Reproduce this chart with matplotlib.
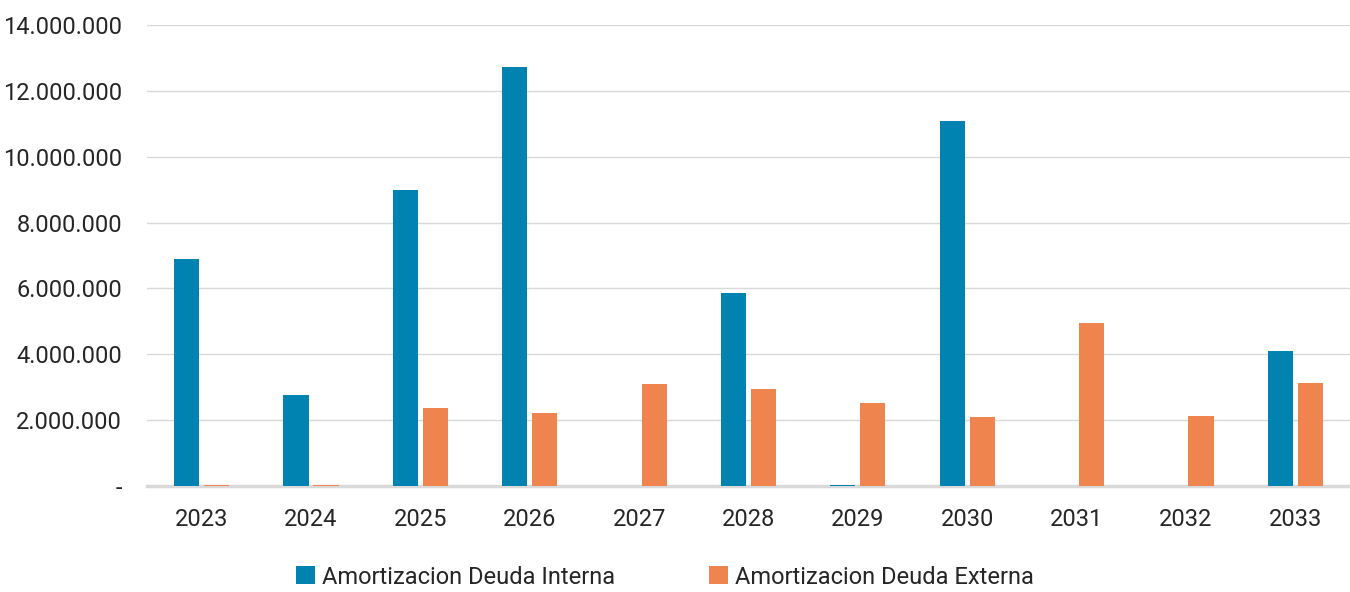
import numpy as np
import matplotlib.pyplot as plt
from matplotlib.ticker import FuncFormatter

years = ["2023", "2024", "2025", "2026", "2027", "2028", "2029", "2030", "2031", "2032", "2033"]
interna = [6890000, 2760000, 8990000, 12720000, 0, 5860000, 40000, 11080000, 0, 0, 4100000]
externa = [40000, 40000, 2370000, 2220000, 3100000, 2940000, 2520000, 2090000, 4950000, 2120000, 3130000]

blue = "#0083B0"
orange = "#F0844E"
text_color = "#262626"

plt.rcParams['font.family'] = ['Roboto', 'DejaVu Sans']

fig = plt.figure(figsize=(13.5, 5.92), dpi=100)
ax = fig.add_axes([147 / 1350, (592 - 486) / 592, (1350 - 147) / 1350, (486 - 25) / 592])

x = np.arange(len(years))
w = 0.23
ax.bar(x - 0.137, interna, width=w, color=blue, label="Amortizacion Deuda Interna", zorder=3)
ax.bar(x + 0.137, externa, width=w, color=orange, label="Amortizacion Deuda Externa", zorder=3)

ax.set_xlim(-0.5, len(years) - 0.5)
ax.set_ylim(0, 14000000)
ax.set_yticks(np.arange(0, 14000001, 2000000))


def fmt(v, pos):
    if v == 0:
        return "-"
    return f"{int(v):,}".replace(",", ".")


ax.yaxis.set_major_formatter(FuncFormatter(fmt))
ax.set_xticks(x)
ax.set_xticklabels(years)

ax.grid(axis="y", color="#d9d9d9", linewidth=1, zorder=0)
for s in ["top", "right", "left"]:
    ax.spines[s].set_visible(False)
ax.spines["bottom"].set_color("#d9d9d9")
ax.spines["bottom"].set_linewidth(2.5)
ax.spines["bottom"].set_zorder(2)

ax.tick_params(axis="both", length=0, labelsize=17, colors=text_color)
ax.tick_params(axis="y", pad=18)
ax.tick_params(axis="x", pad=16)

ax.legend(loc="center", bbox_to_anchor=(665 / 1350, 15 / 592), bbox_transform=fig.transFigure,
          ncol=2, frameon=False, fontsize=17, handlelength=0.8, handleheight=0.8,
          handletextpad=0.3, columnspacing=4.0, labelcolor=text_color)

fig.savefig("out.png", dpi=100)
